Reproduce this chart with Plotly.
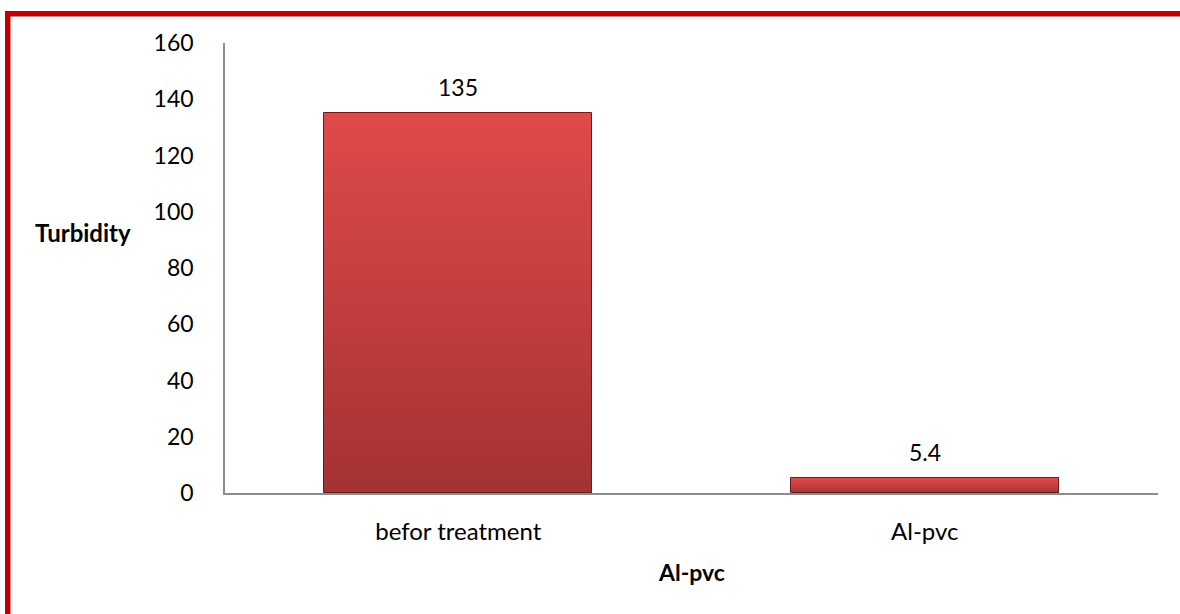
import plotly.graph_objects as go

# Turbidity measurements
categories = ["befor treatment", "Al-pvc"]
turbidity = [135, 5.4]
y_ticks = [0, 20, 40, 60, 80, 100, 120, 140, 160]

W, H = 1180, 614
ML, MR, MT, MB = 225, 22, 43, 121
FONT = "Lato"

top_rgb = (224, 74, 74)
bot_rgb = (164, 50, 50)


def mix(a, b, t):
    return "rgb(%d,%d,%d)" % tuple(round(a[i] + (b[i] - a[i]) * t) for i in range(3))


fig = go.Figure()

# vertical gradient: each bar is built from thin stacked slices of its own value
N = 48
for i in range(N):
    t = (i + 0.5) / N  # 0 at base, 1 at top
    fig.add_trace(go.Bar(
        x=categories,
        y=[v / N for v in turbidity],
        base=[v * i / N for v in turbidity],
        marker=dict(color=mix(bot_rgb, top_rgb, t), line=dict(width=0)),
        width=0.575,
        hoverinfo="skip",
        showlegend=False,
    ))

# outline of each bar
fig.add_trace(go.Bar(
    x=categories,
    y=turbidity,
    marker=dict(color="rgba(0,0,0,0)", line=dict(color="#6e1a1a", width=1)),
    width=0.575,
    showlegend=False,
))

# value labels above bars
for c, v in zip(categories, turbidity):
    fig.add_annotation(x=c, y=v, text=f"{v:g}", showarrow=False,
                       yshift=26, font=dict(family=FONT, size=23, color="#000"))

fig.update_layout(
    width=W, height=H,
    margin=dict(l=ML, r=MR, t=MT, b=MB),
    paper_bgcolor="white",
    plot_bgcolor="white",
    barmode="overlay",
    bargap=0,
    font=dict(family=FONT, size=22, color="#000"),
    showlegend=False,
)

fig.update_xaxes(
    showgrid=False, zeroline=False,
    showline=True, linecolor="#8c8c8c", linewidth=1.5,
    ticks="", tickfont=dict(family=FONT, size=24),
    ticklabelstandoff=16,
)
fig.update_yaxes(
    range=[0, 160], tickvals=y_ticks,
    showgrid=False, zeroline=False,
    showline=True, linecolor="#8c8c8c", linewidth=1.5,
    ticks="", tickfont=dict(family=FONT, size=23),
    ticklabelstandoff=25,
)

# axis titles
fig.add_annotation(text="<b>Turbidity</b>", xref="paper", yref="paper",
                   x=(83 - ML) / (W - ML - MR), y=(H - MB - 232) / (H - MT - MB),
                   xanchor="center", yanchor="middle",
                   showarrow=False, font=dict(family=FONT, size=24))
fig.add_annotation(text="<b>Al-pvc</b>", xref="paper", yref="paper",
                   x=0.5, y=(H - MB - 572) / (H - MT - MB),
                   xanchor="center", yanchor="middle",
                   showarrow=False, font=dict(family=FONT, size=23))

# red frame along the top and left edges
pw, ph = W - ML - MR, H - MT - MB


def px_x(p):
    return (p - ML) / pw


def px_y(p):
    return (H - MB - p) / ph


frame = "#c00000"
fig.add_shape(type="rect", xref="paper", yref="paper",
              x0=px_x(5), x1=px_x(W + 2), y0=px_y(16.5), y1=px_y(11),
              fillcolor=frame, line=dict(width=0), layer="above")
fig.add_shape(type="rect", xref="paper", yref="paper",
              x0=px_x(5), x1=px_x(10.5), y0=px_y(H + 2), y1=px_y(11),
              fillcolor=frame, line=dict(width=0), layer="above")

fig.write_html("out.html")
